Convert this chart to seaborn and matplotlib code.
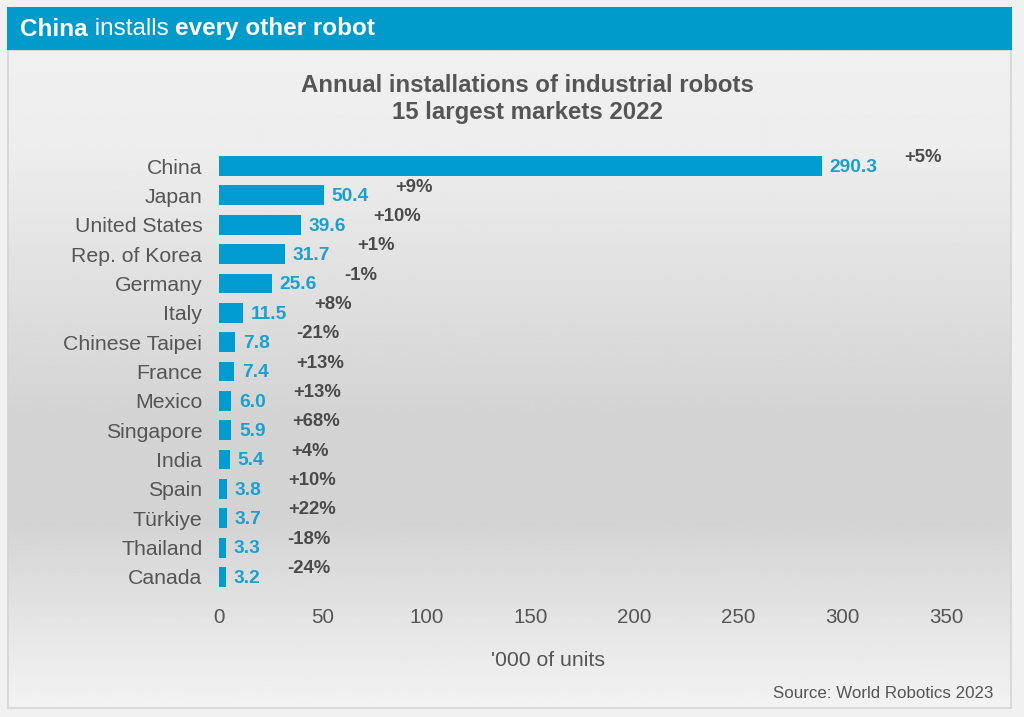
import numpy as np
import pandas as pd
import matplotlib
matplotlib.use("Agg")
import matplotlib.pyplot as plt
from matplotlib.patches import Rectangle
import seaborn as sns

countries = ["China", "Japan", "United States", "Rep. of Korea", "Germany", "Italy",
             "Chinese Taipei", "France", "Mexico", "Singapore", "India", "Spain",
             "Türkiye", "Thailand", "Canada"]
installs = [290.3, 50.4, 39.6, 31.7, 25.6, 11.5, 7.8, 7.4, 6.0, 5.9, 5.4, 3.8, 3.7, 3.3, 3.2]
growth = ["+5%", "+9%", "+10%", "+1%", "-1%", "+8%", "-21%", "+13%", "+13%", "+68%",
          "+4%", "+10%", "+22%", "-18%", "-24%"]
xticks = [0, 50, 100, 150, 200, 250, 300, 350]

BLUE = "#009ccf"
LBLUE = "#1aa0d0"
GRAY = "#555555"

sns.set_theme(style="white")
plt.rcParams['font.family'] = ['Liberation Sans', 'DejaVu Sans']

W, H = 1024, 717
fig = plt.figure(figsize=(W / 100, H / 100), dpi=100)
fig.patch.set_facecolor("#f1f1f1")

# background panel with gradient
bg = fig.add_axes([0, 0, 1, 1], zorder=-10)
bg.set_xlim(0, W)
bg.set_ylim(H, 0)
bg.axis("off")
ys = np.linspace(0, 1, 300)
shade = np.interp(ys, [0, 0.15, 0.55, 0.72, 0.9, 1.0], [0.94, 0.93, 0.83, 0.83, 0.91, 0.95])
grad = np.repeat(shade[:, None], 2, axis=1)
bg.imshow(grad, cmap="gray", vmin=0, vmax=1, extent=[8, 1011, 708, 50], aspect="auto", zorder=0)
bg.add_patch(Rectangle((8, 50), 1003, 658, fill=False, edgecolor="#d4d4d4", lw=1.2, zorder=1))
bg.add_patch(Rectangle((7, 7), 1005, 43, facecolor="#009acb", edgecolor="none", zorder=2))

# header text with mixed weights
fig.canvas.draw()
renderer = fig.canvas.get_renderer()
x0 = 20 / W
parts = [("China", "bold"), (" installs ", "normal"), ("every other robot", "bold")]
for txt, wt in parts:
    t = fig.text(x0, 1 - 29 / H, txt, color="white", fontsize=17.5, fontweight=wt,
                 va="center", ha="left")
    bb = t.get_window_extent(renderer=renderer)
    x0 = bb.x1 / W

# titles
fig.text(527 / W, 1 - 86 / H, "Annual installations of industrial robots", ha="center",
         va="center", fontsize=17.3, fontweight="bold", color=GRAY)
fig.text(527 / W, 1 - 113 / H, "15 largest markets 2022", ha="center",
         va="center", fontsize=17.3, fontweight="bold", color=GRAY)

# main axes
ax = fig.add_axes([219 / W, 1 - 593 / H, 727 / W, 443 / H])
ax.set_facecolor("none")
df = pd.DataFrame({"country": countries, "installs": installs})
sns.barplot(data=df, x="installs", y="country", orient="h", color=BLUE, saturation=1,
            width=0.68, edgecolor="none", linewidth=0, ax=ax)
ax.set_xlim(0, 350)
ax.set_ylim(14.55, -0.55)
ax.set_xticks(xticks)
ax.set_xticklabels([str(v) for v in xticks])
for s in ax.spines.values():
    s.set_visible(False)
ax.tick_params(axis="y", length=0, pad=12, labelsize=15.3, labelcolor=GRAY)
ax.tick_params(axis="x", length=0, pad=11, labelsize=14.8, labelcolor=GRAY)
ax.set_ylabel("")
ax.set_xlabel("")
fig.text(548 / W, 1 - 661 / H, "'000 of units", ha="center", va="center",
         fontsize=15.3, color=GRAY)

fig.canvas.draw()
for i, (v, g) in enumerate(zip(installs, growth)):
    t = ax.annotate(f"{v:.1f}", xy=(v, i), xytext=(5.5, -1), textcoords="offset points",
                    ha="left", va="center", fontsize=13.8, fontweight="bold", color=LBLUE)
    bb = t.get_window_extent(renderer=renderer)
    gx = (bb.x1 + 27 - ax.transData.transform((v, i))[0]) * 72 / 100
    ax.annotate(g, xy=(v, i), xytext=(gx, 6), textcoords="offset points",
                ha="left", va="center", fontsize=13.3, fontweight="bold", color="#4a4a4a")

fig.text(993 / W, 1 - 693 / H, "Source: World Robotics 2023", ha="right", va="center",
         fontsize=12.2, color=GRAY)

fig.savefig("out.png", dpi=100, facecolor=fig.get_facecolor())
